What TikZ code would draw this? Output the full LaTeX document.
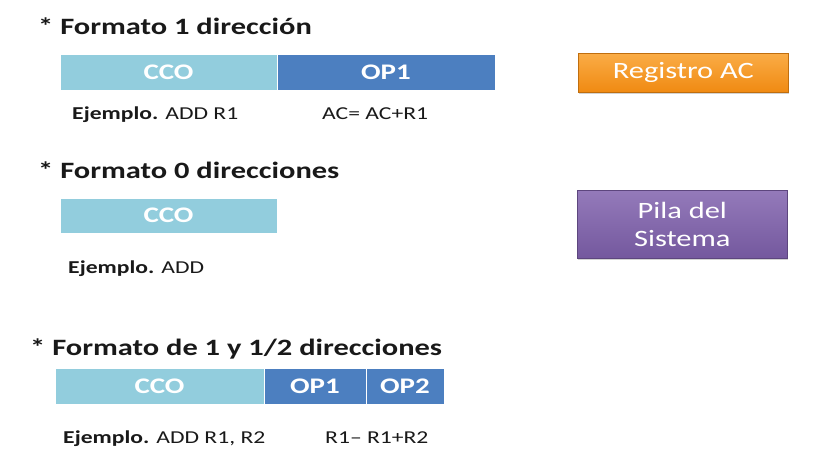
\documentclass[tikz,border=0pt]{standalone}
\usepackage{fontspec}
\setmainfont{Carlito}[FakeStretch=1.3]
\usepackage{tikz}
\usepackage{xcolor}
\usetikzlibrary{positioning, shadows}

\definecolor{ccoblue}{RGB}{146,205,221}
\definecolor{opblue}{RGB}{76,127,192}
\definecolor{regtop}{RGB}{250,172,70}
\definecolor{regbot}{RGB}{240,138,18}
\definecolor{pilatop}{RGB}{148,122,186}
\definecolor{pilabot}{RGB}{116,88,158}
\definecolor{texto}{RGB}{25,25,25}

\newlength{\pxu}
\setlength{\pxu}{0.3mm}

\begin{document}
\begin{tikzpicture}[x=0.3mm, y=-0.3mm,
    titulo/.style={anchor=base west, inner sep=0pt, text=texto, font=\fontsize{20}{24}\selectfont\bfseries},
    ejemplo/.style={anchor=base west, inner sep=0pt, text=texto, font=\fontsize{15.5}{18}\selectfont},
    campo/.style={draw=white, line width=0.6pt, inner sep=0pt, outer sep=0pt, text=white, font=\fontsize{19}{22}\selectfont\bfseries},
    cco/.style={campo, fill=ccoblue},
    opfield/.style={campo, fill=opblue},
    caja/.style={draw=#1!80!black, line width=0.5pt, inner sep=0pt, text=white, align=center,
        font=\fontsize{20}{24}\selectfont, drop shadow={opacity=0.35, shadow xshift=1pt, shadow yshift=-1.2pt}},
]
\useasboundingbox (0, 0) rectangle (830, 466);

% formato 1 direccion
\node[titulo] (t1) at (38, 35) {* Formato 1 dirección};
\node[cco, minimum width=217\pxu, minimum height=36\pxu, anchor=north west] (cco1) at (60, 54) {CCO};
\node[opfield, minimum width=218\pxu, minimum height=36\pxu, right=0pt of cco1] (op1a) {OP1};
\node[ejemplo] (e1) at (72, 119) {\textbf{Ejemplo.} ADD R1};
\node[ejemplo] (r1) at (322, 119) {AC= AC+R1};
\node[caja=regbot, top color=regtop, bottom color=regbot, minimum width=210\pxu, minimum height=39\pxu, anchor=north west] (reg) at (578, 53) {Registro AC};

% formato 0 direcciones
\node[titulo] (t2) at (38, 178) {* Formato 0 direcciones};
\node[cco, minimum width=217\pxu, minimum height=35\pxu, anchor=north west] (cco2) at (60, 198) {CCO};
\node[ejemplo] (e2) at (68, 273) {\textbf{Ejemplo.} ADD};
\node[caja=pilabot, top color=pilatop, bottom color=pilabot, minimum width=210\pxu, minimum height=68\pxu, anchor=north west] (pila) at (577, 190) {Pila del\\Sistema};

% formato 1 y 1/2 direcciones
\node[titulo] (t3) at (30, 355) {* Formato de 1 y 1/2 direcciones};
\node[cco, minimum width=209\pxu, minimum height=36\pxu, anchor=north west] (cco3) at (55, 368) {CCO};
\node[opfield, minimum width=102\pxu, minimum height=36\pxu, right=0pt of cco3] (op1b) {OP1};
\node[opfield, minimum width=78\pxu, minimum height=36\pxu, right=0pt of op1b] (op2b) {OP2};
\node[ejemplo] (e3) at (63, 443) {\textbf{Ejemplo.} ADD R1, R2};
\node[ejemplo] (r3) at (325, 443) {R1– R1+R2};
\end{tikzpicture}
\end{document}
